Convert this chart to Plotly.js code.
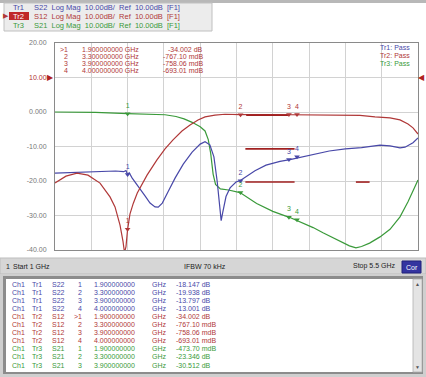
<!DOCTYPE html>
<html><head><meta charset="utf-8">
<script src="https://cdn.plot.ly/plotly-3.0.1.min.js"></script>
<style>html,body{margin:0;padding:0;background:#fff;}#chart{width:426px;height:377px;}</style>
</head><body><div id="chart"></div>
<script>
// ---------- data ----------
const startGHz = 1, stopGHz = 5.5;
const yTickVals = [-40, -30, -20, -10, 0, 10, 20];
const yTickText = ["-40.00", "-30.00", "-20.00", "-10.00", "0.000", "10.00", "20.00"];

// Tr2 S12 (red)
const s12Freq = [1.000,1.136,1.273,1.409,1.558,1.682,1.744,1.806,1.843,1.862,1.880,1.900,1.930,1.970,2.020,2.141,2.264,2.364,2.463,2.574,2.674,2.773,2.860,2.983,3.107,3.293,3.600,3.913,4.300,4.600,4.781,4.967,5.153,5.277,5.376,5.438,5.500];
const s12dB   = [-20.6,-18.6,-17.7,-18.3,-20.6,-24.6,-27.5,-32.8,-37.5,-40.8,-39.0,-34.0,-29.5,-26.5,-23.5,-18.3,-13.9,-10.7,-8.1,-5.5,-3.8,-2.3,-1.4,-0.9,-0.65,-0.77,-0.72,-0.76,-0.73,-0.78,-1.0,-1.4,-1.7,-2.3,-3.5,-4.6,-6.4];

// Tr1 S22 (blue)
const s22Freq = [1.000,1.200,1.400,1.600,1.750,1.850,1.880,1.900,1.920,1.955,2.030,2.116,2.178,2.240,2.280,2.330,2.400,2.490,2.590,2.700,2.800,2.860,2.920,2.970,3.010,3.040,3.060,3.080,3.120,3.170,3.244,3.293,3.368,3.479,3.616,3.789,3.913,4.037,4.198,4.400,4.600,4.800,5.029,5.153,5.277,5.339,5.438,5.500];
const s22dB   = [-17.7,-17.5,-17.3,-17.1,-17.1,-17.3,-17.0,-18.1,-17.6,-19.1,-21.4,-24.3,-26.4,-27.5,-27.6,-26.4,-23.2,-19.1,-15.1,-11.6,-9.3,-8.6,-9.5,-13.0,-20.0,-28.0,-31.5,-29.0,-24.5,-22.0,-20.3,-19.9,-18.8,-17.0,-15.4,-14.3,-13.8,-13.2,-12.2,-11.3,-10.7,-10.3,-9.6,-9.8,-10.4,-10.2,-8.9,-7.5];

// Tr3 S21 (green)
const s21Freq = [1.000,1.500,1.900,2.200,2.364,2.500,2.600,2.700,2.800,2.860,2.900,2.930,2.960,2.990,3.050,3.150,3.293,3.500,3.700,3.913,4.200,4.322,4.500,4.650,4.731,4.800,4.900,5.029,5.153,5.277,5.376,5.450,5.500];
const s21dB   = [0.0,-0.1,-0.47,-0.6,-0.8,-1.3,-2.0,-3.0,-4.3,-5.5,-8.0,-12.0,-18.0,-21.0,-22.3,-22.6,-23.35,-26.5,-28.8,-30.6,-33.5,-35.0,-37.0,-38.8,-39.4,-39.0,-38.0,-36.2,-34.0,-30.4,-26.0,-22.5,-19.7];

// markers
const markerNum  = ["1", "2", "3", "4"];
const markerFreq = [1.9, 3.3, 3.9, 4.0];
const s22Markers = [-18.147, -19.938, -13.797, -13.001];
const s12Markers = [-34.002, -0.76710, -0.75806, -0.69301];
const s21Markers = [-0.47370, -23.346, -30.512, -31.204];

// limit lines (Tr2)
const limitStart = [3.37, 3.36, 3.36, 4.73];
const limitStop  = [3.90, 3.97, 3.97, 4.90];
const limitLevel = [-0.9, -10.7, -20.3, -20.3];

const traceNames = ["Tr1", "Tr2", "Tr3"];
const traceParams = ["S22", "S12", "S21"];
const passText = ["Tr1: Pass", "Tr2: Pass", "Tr3: Pass"];

// ---------- styles ----------
const BLUE = "#4848a8", RED = "#b03838", GREEN = "#3a9a3a";
const FONT = "Liberation Sans, Arial, sans-serif";
const W = 426, H = 377;
const px = x => x / W, py = y => 1 - y / H;

function fmtVal(v) {
  return Math.abs(v) < 1 ? (v * 1000).toFixed(2) + " mdB" : v.toFixed(3) + " dB";
}
function fmtFreq(f) { return f.toFixed(9) + " GHz"; }

const traces = [];
function line(xs, ys, c, w) {
  traces.push({x: xs, y: ys, type: "scatter", mode: "lines", line: {color: c, width: w || 1.2}, hoverinfo: "skip"});
}
line(s21Freq, s21dB, GREEN);
line(s22Freq, s22dB, BLUE);
line(s12Freq, s12dB, RED);
for (let i = 0; i < limitStart.length; i++) {
  line([limitStart[i], limitStop[i]], [limitLevel[i], limitLevel[i]], "#a02020", 1.6);
}
function markers(vals, c) {
  traces.push({x: markerFreq, y: vals, type: "scatter", mode: "markers+text",
    marker: {symbol: "triangle-down", size: 5, color: c},
    text: markerNum, textposition: "top center",
    textfont: {size: 7, color: c, family: FONT}, hoverinfo: "skip"});
}
markers(s22Markers, BLUE);
markers(s21Markers, GREEN);
markers(s12Markers, RED);
// marker position indicators below the grid
traces.push({x: markerFreq, y: markerFreq.map(() => -41.6), type: "scatter", mode: "markers",
  cliponaxis: false,
  marker: {symbol: "triangle-up", size: [9, 6, 6, 6],
    color: ["#8a1010", "rgba(0,0,0,0)", "rgba(0,0,0,0)", "rgba(0,0,0,0)"],
    line: {color: "#b03838", width: 1}}, hoverinfo: "skip"});

// ---------- annotations / shapes ----------
const ann = [], shapes = [];
function txt(x, y, t, c, size, anchor, extra) {
  ann.push(Object.assign({xref: "paper", yref: "paper", x: px(x), y: py(y), text: t, showarrow: false,
    xanchor: anchor || "left", yanchor: "middle", font: {family: FONT, size: size || 7, color: c}}, extra || {}));
}
function rect(x0, y0, x1, y1, fill, lc, lw) {
  shapes.push({type: "rect", xref: "paper", yref: "paper", x0: px(x0), x1: px(x1), y0: py(y1), y1: py(y0),
    fillcolor: fill, line: {color: lc || fill, width: lw === undefined ? 0 : lw}, layer: "below"});
}

// header
rect(0, 0, 426, 3, "#b8b8b8");
rect(4, 3, 212, 31, "#ececec", "#c0c0c0", 1);
rect(9, 12, 29, 20, "#c02828");
const hdrCol = [BLUE, RED, GREEN];
for (let i = 0; i < 3; i++) {
  const y = 7.5 + i * 9;
  txt(11, y, traceNames[i], i === 1 ? "#ffffff" : hdrCol[i], 7.5);
  txt(32, y, traceParams[i] + "  Log Mag  10.00dB/  Ref  10.00dB  [F1]", hdrCol[i], 7.5);
}
txt(1, 16, "▶", RED, 7);

// marker readout in plot (active trace Tr2)
for (let i = 0; i < 4; i++) {
  const y = 49 + i * 7.3;
  txt(70, y, (i === 0 ? ">" : "") + markerNum[i], RED, 7, "right");
  txt(80, y, fmtFreq(markerFreq[i]), RED, 7);
  txt(205, y, fmtVal(s12Markers[i]), RED, 7, "right");
}
// pass status
for (let i = 0; i < 3; i++) txt(412, 48 + i * 7.5, passText[i], hdrCol[i], 7, "right");

// reference arrows
txt(50, 78, "▶", "#b02020", 8, "center");
txt(421, 78, "◀", "#b02020", 8, "center");

// status bar
rect(0, 258, 426, 274, "#d6d6d6", "#bdbdbd", 1);
txt(4, 266, "1", "#222", 7);
txt(11, 266, "Start " + startGHz + " GHz", "#222", 7);
txt(205, 266, "IFBW 70 kHz", "#222", 7, "center");
txt(398, 266, "Stop " + stopGHz + " GHz", "#222", 7, "right");
rect(402, 261, 421, 273, "#3434a0", "#20207a", 1);
txt(411.5, 267, "Cor", "#ffffff", 7, "center");

// marker table panel
rect(0, 274, 426, 377, "#cfcfcf");
rect(3, 276, 423, 374, "#8c8c8c");
rect(6, 279, 413, 372, "#ffffff");
rect(413, 279, 422, 372, "#e4e4e4", "#b0b0b0", 0.8);
txt(417.5, 284, "▲", "#555", 5, "center");
txt(417.5, 367, "▼", "#555", 5, "center");
const rowSets = [[0, s22Markers, BLUE, 4], [1, s12Markers, RED, 4], [2, s21Markers, GREEN, 3]];
let row = 0;
rowSets.forEach(([ti, vals, c, n]) => {
  for (let i = 0; i < n; i++) {
    const y = 284 + row * 8.1;
    txt(10, y, "Ch1", c, 7);
    txt(30, y, traceNames[ti], c, 7);
    txt(50, y, traceParams[ti], c, 7);
    txt(84, y, (ti === 1 && i === 0 ? ">" : "") + markerNum[i], c, 7, "right");
    txt(92, y, markerFreq[i].toFixed(9), c, 7);
    txt(150, y, "GHz", c, 7);
    txt(174, y, fmtVal(vals[i]), c, 7);
    row++;
  }
});

const layout = {
  width: W, height: H, margin: {l: 0, r: 0, t: 0, b: 0},
  paper_bgcolor: "#ffffff", plot_bgcolor: "#ffffff", showlegend: false,
  font: {family: FONT},
  xaxis: {domain: [55 / W, 418 / W], range: [startGHz, stopGHz], tick0: startGHz, dtick: (stopGHz - startGHz) / 10,
    showticklabels: false, ticks: "", showgrid: true, gridcolor: "#d2d2d2", gridwidth: 1,
    zeroline: false, showline: true, linecolor: "#8a8a8a", linewidth: 1, mirror: true, fixedrange: true},
  yaxis: {domain: [1 - 250 / H, 1 - 43 / H], range: [-40, 20], tickvals: yTickVals,
    ticktext: yTickText.map(t => t === "10.00" ? '<span style="color:#b03030">' + t + "</span>" : t),
    tickfont: {size: 7, color: "#777777", family: FONT}, ticks: "", ticklabelstandoff: 6,
    showgrid: true, gridcolor: "#d2d2d2", zeroline: false, showline: true, linecolor: "#8a8a8a",
    linewidth: 1, mirror: true, fixedrange: true},
  annotations: ann, shapes: shapes
};
Plotly.newPlot("chart", traces, layout, {staticPlot: true, displayModeBar: false});
</script></body></html>
